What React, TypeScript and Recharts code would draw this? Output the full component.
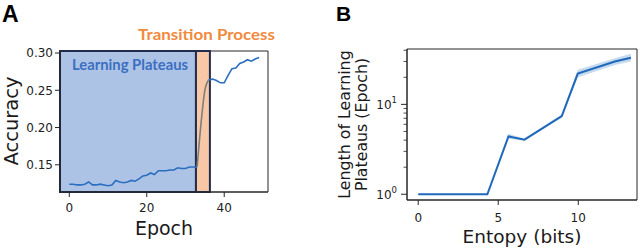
import React from "react";
import {
  ComposedChart,
  Line,
  Area,
  XAxis,
  YAxis,
  ReferenceArea,
} from "recharts";

// ---------- Panel A data ----------
const epochs = Array.from({ length: 50 }, (_, i) => i);
const accuracy = [
  0.124, 0.124, 0.123, 0.123, 0.124, 0.127, 0.123, 0.123, 0.124, 0.123,
  0.122, 0.123, 0.129, 0.127, 0.126, 0.127, 0.129, 0.128, 0.131, 0.135,
  0.136, 0.139, 0.137, 0.142, 0.142, 0.142, 0.143, 0.143, 0.146, 0.145,
  0.145, 0.147, 0.147, 0.147, 0.205, 0.25, 0.264, 0.265, 0.263, 0.26,
  0.26, 0.27, 0.279, 0.28, 0.286, 0.288, 0.291, 0.289, 0.292, 0.294,
];
const transitionEpochs = [33, 34, 35, 36];
const plateauEnd = 32.7;
const transitionEnd = 36.3;
const epochDomain: [number, number] = [-2.4, 51.3];
const accDomain: [number, number] = [0.1135, 0.3027];
const epochTicks = [0, 20, 40];
const accTicks = [0.15, 0.2, 0.25, 0.3];

// ---------- Panel B data ----------
const entropy = [0, 4.32, 5.64, 6.64, 8.97, 9.97, 12.29, 13.29];
const plateauLength = [1, 1, 4.4, 4.05, 7.4, 22, 30, 33];
const bandLow = [1, 1, 4.15, 3.95, 7.1, 20, 27.5, 30];
const bandHigh = [1, 1, 4.7, 4.15, 7.7, 24.2, 32.5, 36.5];
const entropyDomain: [number, number] = [-0.7, 13.67];
const lengthDomain: [number, number] = [0.863, 41.3];
const entropyTicks = [0, 5, 10];
const logTicks = [1, 2, 3, 4, 5, 6, 7, 8, 9, 10, 20, 30, 40];

const dataA = epochs.map((e, i) => ({
  epoch: e,
  main: e > 33 && e < 36 ? null : accuracy[i],
  trans: transitionEpochs.includes(e) ? accuracy[i] : null,
}));

const dataB = entropy.map((x, i) => ({
  x,
  len: plateauLength[i],
  band: [bandLow[i], bandHigh[i]],
}));

const TICK_FONT = "DejaVu Sans";
const AXIS_COLOR = "#262626";

const LogTick = (props: any) => {
  const { x, y, payload } = props;
  const v = payload.value;
  const major = v === 1 || v === 10;
  const exp = v === 1 ? "0" : "1";
  return (
    <g>
      <line
        x1={x - (major ? 6 : 3.5)}
        x2={x}
        y1={y}
        y2={y}
        stroke={AXIS_COLOR}
        strokeWidth={major ? 1 : 0.8}
      />
      {major && (
        <text
          x={x - 10}
          y={y + 4.5}
          textAnchor="end"
          fontFamily={TICK_FONT}
          fontSize={12}
          fill="#222"
        >
          10
          <tspan dy={-6} fontSize={8.5}>
            {exp}
          </tspan>
        </text>
      )}
    </g>
  );
};

export default function App() {
  return (
    <div
      style={{
        position: "absolute",
        left: 0,
        top: 0,
        width: 640,
        height: 250,
        background: "#fff",
        overflow: "hidden",
      }}
    >
      <div style={{ position: "absolute", left: 0, top: 0 }}>
        <ComposedChart
          width={300}
          height={250}
          data={dataA}
          margin={{ top: 51, right: 32, bottom: 0, left: 0 }}
        >
          <XAxis
            dataKey="epoch"
            type="number"
            domain={epochDomain}
            allowDataOverflow
            ticks={epochTicks}
            height={58}
            tickSize={5}
            tickMargin={6}
            stroke={AXIS_COLOR}
            tick={{ fontSize: 12, fill: "#222", fontFamily: TICK_FONT }}
          />
          <YAxis
            type="number"
            domain={accDomain}
            allowDataOverflow
            ticks={accTicks}
            width={60}
            tickSize={5}
            tickMargin={2}
            stroke={AXIS_COLOR}
            tickFormatter={(v: number) => v.toFixed(2)}
            tick={{ fontSize: 12, fill: "#222", fontFamily: TICK_FONT }}
          />
          <ReferenceArea
            x1={epochDomain[0]}
            x2={epochDomain[1]}
            y1={accDomain[0]}
            y2={accDomain[1]}
            fill="none"
            stroke={AXIS_COLOR}
            strokeWidth={1}
            ifOverflow="visible"
          />
          <ReferenceArea
            x1={epochDomain[0]}
            x2={plateauEnd}
            y1={accDomain[0]}
            y2={accDomain[1]}
            fill="#adc3e6"
            fillOpacity={1}
            stroke="#1f2c4c"
            strokeWidth={2}
            ifOverflow="visible"
          />
          <ReferenceArea
            x1={plateauEnd}
            x2={transitionEnd}
            y1={accDomain[0]}
            y2={accDomain[1]}
            fill="#f8c8a6"
            fillOpacity={1}
            stroke="#1f2c4c"
            strokeWidth={2}
            ifOverflow="visible"
          />
          <Line
            dataKey="main"
            type="linear"
            stroke="#2a6ec0"
            strokeWidth={1.6}
            dot={false}
            connectNulls={false}
            isAnimationActive={false}
          />
          <Line
            dataKey="trans"
            type="monotone"
            stroke="#7f7f7f"
            strokeWidth={1.6}
            dot={false}
            connectNulls={false}
            isAnimationActive={false}
          />
        </ComposedChart>
      </div>

      <div style={{ position: "absolute", left: 320, top: 0 }}>
        <ComposedChart
          width={320}
          height={250}
          data={dataB}
          margin={{ top: 49, right: 3, bottom: 0, left: 0 }}
        >
          <XAxis
            dataKey="x"
            type="number"
            domain={entropyDomain}
            allowDataOverflow
            ticks={entropyTicks}
            height={50}
            tickSize={5}
            tickMargin={8}
            stroke={AXIS_COLOR}
            tick={{ fontSize: 12, fill: "#222", fontFamily: TICK_FONT }}
          />
          <YAxis
            type="number"
            scale="log"
            domain={lengthDomain}
            allowDataOverflow
            ticks={logTicks}
            interval={0}
            width={87}
            tickSize={0}
            tickMargin={0}
            tickLine={false}
            stroke={AXIS_COLOR}
            tick={<LogTick />}
          />
          <ReferenceArea
            x1={entropyDomain[0]}
            x2={entropyDomain[1]}
            y1={lengthDomain[0]}
            y2={lengthDomain[1]}
            fill="none"
            stroke={AXIS_COLOR}
            strokeWidth={1}
            ifOverflow="visible"
          />
          <Area
            dataKey="band"
            type="linear"
            stroke="none"
            fill="#9fc2e4"
            fillOpacity={0.6}
            isAnimationActive={false}
          />
          <Line
            dataKey="len"
            type="linear"
            stroke="#1f68bb"
            strokeWidth={2}
            dot={false}
            isAnimationActive={false}
          />
        </ComposedChart>
      </div>

      <svg
        width={640}
        height={250}
        style={{ position: "absolute", left: 0, top: 0, pointerEvents: "none" }}
      >
        <text
          x={2}
          y={22}
          fontFamily="Liberation Sans"
          fontWeight="bold"
          fontSize={23}
          fill="#000"
        >
          A
        </text>
        <text
          x={336}
          y={21}
          fontFamily="Liberation Sans"
          fontWeight="bold"
          fontSize={21}
          fill="#000"
        >
          B
        </text>
        <text
          x={206.5}
          y={40}
          textAnchor="middle"
          fontFamily="Lato"
          fontWeight="bold"
          fontSize={16}
          fill="#f08a3c"
          textLength={137}
          lengthAdjust="spacingAndGlyphs"
        >
          Transition Process
        </text>
        <text
          x={72}
          y={70}
          fontFamily="Lato"
          fontWeight="bold"
          fontSize={15}
          fill="#3a6fc1"
          textLength={116}
          lengthAdjust="spacingAndGlyphs"
        >
          Learning Plateaus
        </text>
        <text
          transform="translate(18,121) rotate(-90)"
          textAnchor="middle"
          fontFamily={TICK_FONT}
          fontSize={19.5}
          fill="#1a1a1a"
        >
          Accuracy
        </text>
        <text
          x={164}
          y={235}
          textAnchor="middle"
          fontFamily={TICK_FONT}
          fontSize={19}
          fill="#1a1a1a"
        >
          Epoch
        </text>
        <text
          transform="translate(349.5,124.5) rotate(-90)"
          textAnchor="middle"
          fontFamily={TICK_FONT}
          fontSize={15.8}
          fill="#1a1a1a"
        >
          Length of Learning
        </text>
        <text
          transform="translate(366.5,124.5) rotate(-90)"
          textAnchor="middle"
          fontFamily={TICK_FONT}
          fontSize={15.8}
          fill="#1a1a1a"
        >
          Plateaus (Epoch)
        </text>
        <text
          x={522}
          y={243}
          textAnchor="middle"
          fontFamily={TICK_FONT}
          fontSize={18.5}
          fill="#1a1a1a"
        >
          Entopy (bits)
        </text>
      </svg>
    </div>
  );
}
